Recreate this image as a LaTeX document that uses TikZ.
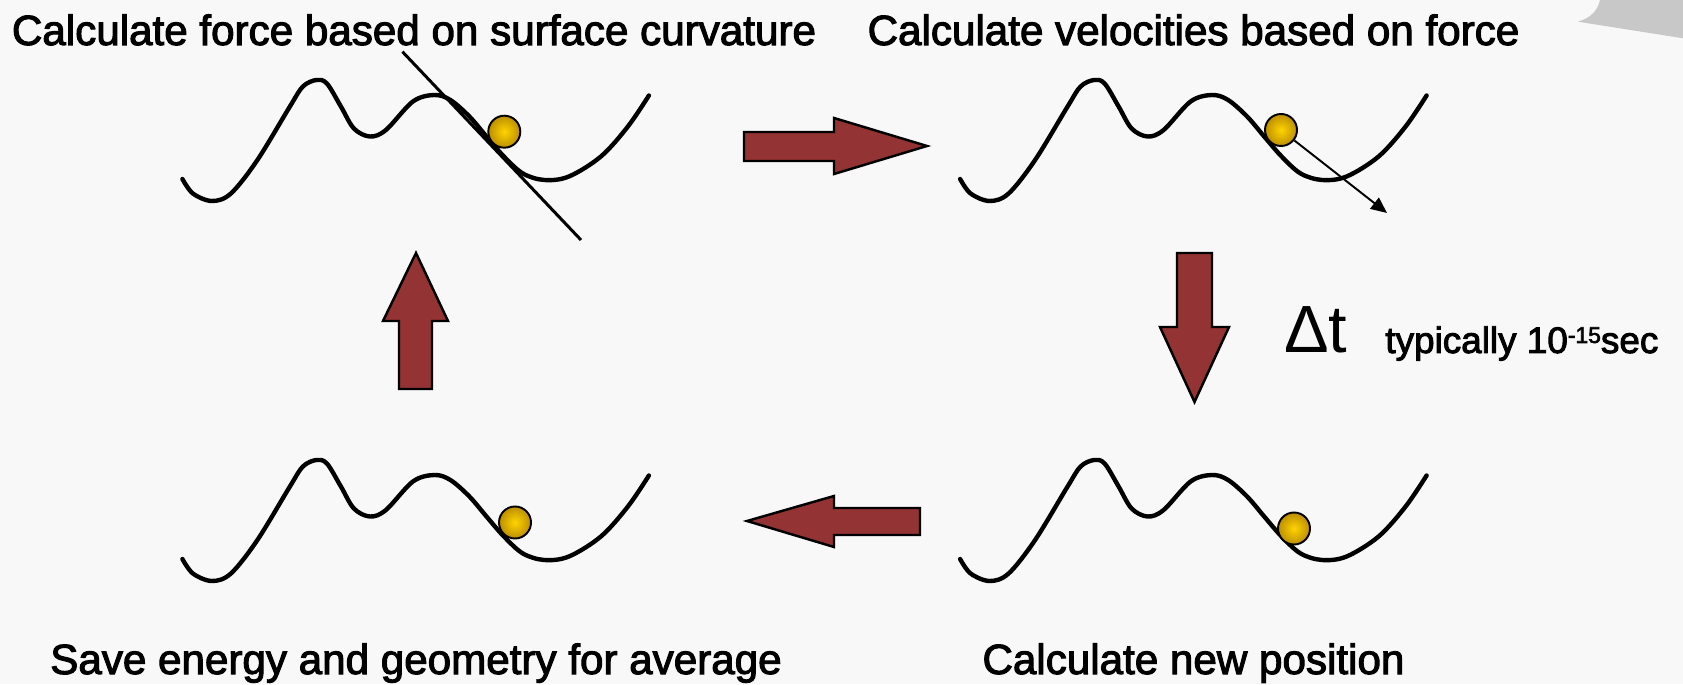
\documentclass[tikz,border=0pt]{standalone}
\usepackage{fontspec}
\setmainfont{Liberation Sans}
\newfontfamily\heavyfont{Liberation Sans}[FakeBold=2.5]
\usepackage{tikz}
\usetikzlibrary{arrows.meta,positioning,calc}

\definecolor{bgcol}{RGB}{248,248,248}
\definecolor{arrowred}{RGB}{148,51,51}
\definecolor{goldlight}{RGB}{255,212,0}
\definecolor{golddark}{RGB}{188,142,0}
\definecolor{curlgray}{RGB}{200,200,200}

\tikzset{
  curve/.style={line width=2.5pt,line cap=round,line join=round},
  landscape/.pic={
    \draw[curve] plot[smooth,tension=0.55] coordinates {
      (0,0) (0.21,-0.29) (0.59,-0.44) (0.97,-0.29) (1.50,0.38) (2.15,1.45)
      (2.41,1.85) (2.68,1.98) (2.89,1.91) (3.17,1.45) (3.43,1.01) (3.75,0.85)
      (4.07,0.98) (4.61,1.55) (5.04,1.68) (5.36,1.58) (5.74,1.25) (6.09,0.84)
      (6.43,0.45) (6.81,0.11) (7.24,-0.02) (7.73,0.05) (8.37,0.45) (8.91,1.05)
      (9.33,1.67)};
  },
  ball/.style={circle,draw=black,line width=1.1pt,minimum size=0.64cm,inner sep=0pt,
    inner color=goldlight,outer color=golddark},
  blockarrow/.style={fill=arrowred,draw=black,line width=1.4pt,line join=miter},
  caption/.style={font=\heavyfont\fontsize{24}{28}\selectfont,inner sep=0pt,anchor=base},
}

\begin{document}
\begin{tikzpicture}
    % page
    \fill[bgcol] (0,0) rectangle (33.66,13.68);
    \useasboundingbox (0,0) rectangle (33.66,13.68);
    \fill[curlgray] (31.56,13.246) .. controls (31.80,13.32) and (31.95,13.45) .. (32.0,13.68)
      -- (33.66,13.68) -- (33.66,12.914) -- cycle;

    % energy surfaces
    \foreach \x/\y in {3.648/10.10,19.202/10.10,3.648/2.50,19.202/2.50}
      \pic at (\x,\y) {landscape};

    % tangent and velocity
    \draw[line width=1.7pt] (8.048,12.646) -- (11.62,8.88);
    \node[ball] (b1) at (10.086,11.046) {};
    \node[ball] (b2) at (25.62,11.08) {};
    \node[ball] (b3) at (25.88,3.11) {};
    \node[ball] (b4) at (10.30,3.23) {};
    \coordinate (vtip) at (27.74,9.42);
    \draw[line width=1.1pt,-{Triangle[length=0.32cm,width=0.28cm]}] (b2) -- (vtip);

    % block arrows
    \filldraw[blockarrow] (14.88,11.04) -- (16.68,11.04) -- (16.68,11.32) -- (18.54,10.76)
      -- (16.68,10.20) -- (16.68,10.46) -- (14.88,10.46) -- cycle;
    \filldraw[blockarrow] (23.54,8.62) -- (24.24,8.62) -- (24.24,7.14) -- (24.58,7.14)
      -- (23.89,5.64) -- (23.20,7.14) -- (23.54,7.14) -- cycle;
    \filldraw[blockarrow] (18.40,3.52) -- (16.68,3.52) -- (16.68,3.76) -- (14.94,3.26)
      -- (16.68,2.74) -- (16.68,2.98) -- (18.40,2.98) -- cycle;
    \filldraw[blockarrow] (7.98,5.90) -- (7.98,7.26) -- (7.66,7.26) -- (8.32,8.62)
      -- (8.96,7.26) -- (8.64,7.26) -- (8.64,5.90) -- cycle;

    % captions
    \node[caption] (force) at (8.28,12.78) {Calculate force based on surface curvature};
    \node[caption] (veloc) at (23.87,12.78) {Calculate velocities based on force};
    \node[caption] (newpos) at (23.87,0.20) {Calculate new position};
    \node[caption] (save) at (8.32,0.20) {Save energy and geometry for average};
    \node[inner sep=0pt,anchor=base west,font=\fontsize{38}{40}\selectfont] (dt) at (25.68,6.62) {Δt};
    \node[inner sep=0pt,anchor=base west,font=\heavyfont\fontsize{21}{24}\selectfont] (typ) at (27.70,6.62)
      {typically 10\raisebox{5.7pt}{\fontsize{13}{13}\selectfont -15}sec};
\end{tikzpicture}
\end{document}
